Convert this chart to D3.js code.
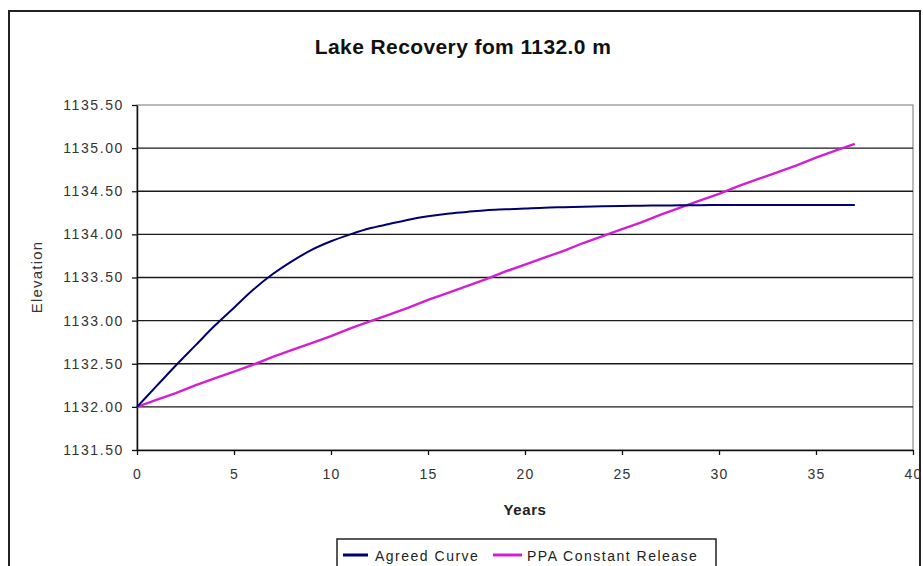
<!DOCTYPE html>
<html><head><meta charset="utf-8">
<script src="https://cdn.jsdelivr.net/npm/d3@7"></script>
<style>
html,body{margin:0;padding:0;background:#fff;}
svg{display:block;font-family:Arial,"Liberation Sans",sans-serif;}
</style></head>
<body>
<svg id="chart" width="923" height="566"></svg>
<script>
const title = "Lake Recovery fom 1132.0 m";
const xLabel = "Years";
const yLabel = "Elevation";
const years = [0,1,2,3,4,5,6,7,8,9,10,11,12,13,14,15,16,17,18,19,20,21,22,23,24,25,26,27,28,29,30,31,32,33,34,35,36,37];
const agreedCurve = [1132.00,1132.24,1132.48,1132.71,1132.94,1133.15,1133.36,1133.54,1133.69,1133.82,1133.92,1134.00,1134.07,1134.12,1134.17,1134.21,1134.24,1134.26,1134.28,1134.29,1134.30,1134.31,1134.315,1134.32,1134.325,1134.33,1134.333,1134.335,1134.337,1134.339,1134.34,1134.34,1134.34,1134.34,1134.34,1134.34,1134.34,1134.34];
const ppaConstant = [1132.00,1132.08,1132.16,1132.25,1132.33,1132.41,1132.49,1132.58,1132.66,1132.74,1132.82,1132.91,1132.99,1133.07,1133.15,1133.24,1133.32,1133.40,1133.48,1133.57,1133.65,1133.73,1133.81,1133.90,1133.98,1134.06,1134.14,1134.23,1134.31,1134.39,1134.47,1134.56,1134.64,1134.72,1134.80,1134.89,1134.97,1135.05];
const xTicks = [0,5,10,15,20,25,30,35,40];
const yTicks = [1131.5,1132.0,1132.5,1133.0,1133.5,1134.0,1134.5,1135.0,1135.5];
const seriesNames = ["Agreed Curve","PPA Constant Release"];
const seriesColors = ["#000070","#d21fd2"];

const svg = d3.select("#chart");
const L = 137, R = 913, T = 105, B = 450;
const x = d3.scaleLinear().domain([0,40]).range([L,R]);
const y = d3.scaleLinear().domain([1131.5,1135.5]).range([B,T]);

// outer frame
svg.append("rect").attr("x",9).attr("y",11).attr("width",911).attr("height",600)
  .attr("fill","#fff").attr("stroke","#222").attr("stroke-width",2);

// title
svg.append("text").attr("x",463).attr("y",54).attr("text-anchor","middle")
  .attr("font-size",21).attr("font-weight","bold").attr("letter-spacing",0.4)
  .attr("fill","#111").text(title);

// plot border
svg.append("rect").attr("x",L).attr("y",T).attr("width",R-L).attr("height",B-T)
  .attr("fill","none").attr("stroke","#777").attr("stroke-width",1);

// gridlines
svg.append("g").selectAll("line").data(yTicks.slice(1,-1)).join("line")
  .attr("x1",L).attr("x2",R).attr("y1",d=>y(d)).attr("y2",d=>y(d))
  .attr("stroke","#1a1a1a").attr("stroke-width",1.4);

// y axis
const yAxis = svg.append("g").attr("transform",`translate(${L},0)`)
  .call(d3.axisLeft(y).tickValues(yTicks).tickFormat(d3.format(".2f")).tickSize(5).tickSizeOuter(0));
yAxis.select(".domain").attr("stroke","#111").attr("stroke-width",1.5);
yAxis.selectAll(".tick line").attr("stroke","#111").attr("stroke-width",1.3);
yAxis.selectAll("text").attr("font-size",14).attr("letter-spacing",1.6).attr("fill","#333")
  .attr("font-family","Arial, 'Liberation Sans', sans-serif").attr("x",-13);

// x axis
const xAxis = svg.append("g").attr("transform",`translate(0,${B})`)
  .call(d3.axisBottom(x).tickValues(xTicks).tickSize(5).tickSizeOuter(0));
xAxis.select(".domain").attr("stroke","#111").attr("stroke-width",1.5);
xAxis.selectAll(".tick line").attr("stroke","#111").attr("stroke-width",1.3);
xAxis.selectAll("text").attr("font-size",14).attr("letter-spacing",1.2).attr("fill","#333")
  .attr("font-family","Arial, 'Liberation Sans', sans-serif").attr("y",19);

// axis titles
svg.append("text").attr("x",525).attr("y",515).attr("text-anchor","middle")
  .attr("font-size",15).attr("font-weight","bold").attr("letter-spacing",0.6).attr("fill","#222").text(xLabel);
svg.append("text").attr("transform","translate(42,277) rotate(-90)").attr("text-anchor","middle")
  .attr("font-size",15).attr("letter-spacing",1.2).attr("fill","#333").text(yLabel);

// lines
const straight = d3.line().x((d,i)=>x(years[i])).y(d=>y(d));
const smooth = d3.line().x((d,i)=>x(years[i])).y(d=>y(d)).curve(d3.curveMonotoneX);
svg.append("path").datum(ppaConstant).attr("d",straight).attr("fill","none")
  .attr("stroke",seriesColors[1]).attr("stroke-width",2.4);
svg.append("path").datum(agreedCurve).attr("d",smooth).attr("fill","none")
  .attr("stroke",seriesColors[0]).attr("stroke-width",2);

// legend
const lg = svg.append("g");
lg.append("rect").attr("x",337).attr("y",539).attr("width",379).attr("height",40)
  .attr("fill","#fff").attr("stroke","#222").attr("stroke-width",1.5);
const legendX = [[343,368,375],[493,522,527]];
seriesNames.forEach((n,i)=>{
  lg.append("line").attr("x1",legendX[i][0]).attr("x2",legendX[i][1]).attr("y1",555).attr("y2",555)
    .attr("stroke",seriesColors[i]).attr("stroke-width",3);
  lg.append("text").attr("x",legendX[i][2]).attr("y",561).attr("font-size",14)
    .attr("letter-spacing",1.5).attr("fill","#222").text(n);
});
</script>
</body></html>
